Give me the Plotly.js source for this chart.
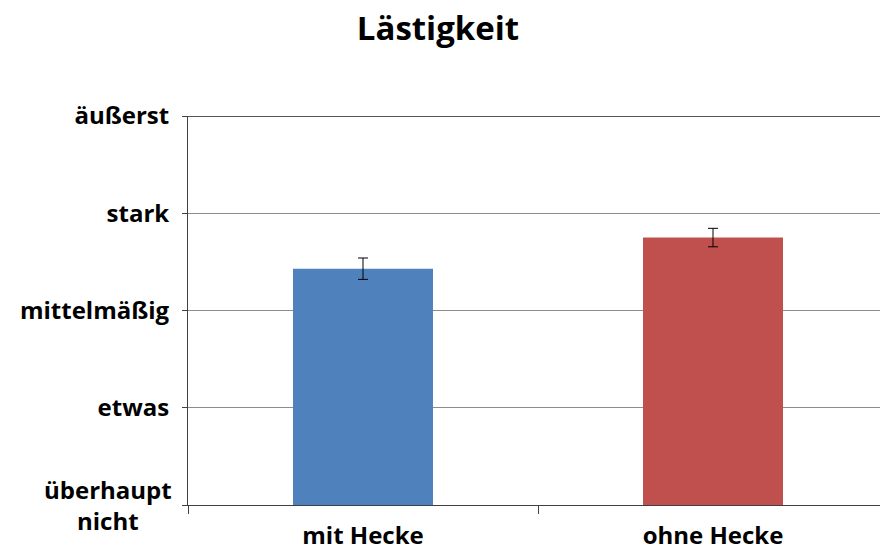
<!DOCTYPE html>
<html><head><meta charset="utf-8">
<script src="https://cdn.plot.ly/plotly-3.0.1.min.js"></script>
<style>html,body{margin:0;padding:0;overflow:hidden;background:#fff}</style>
</head><body><div id="chart"></div>
<script>
const categories = ["mit Hecke", "ohne Hecke"];
const values = [3.43, 3.75];
const errors = [0.11, 0.095];
const barColors = ["#4F81BD", "#C0504D"];
const levelValues = [1, 2, 3, 4, 5];
const levelLabels = ["überhaupt<br>nicht", "etwas", "mittelmäßig", "stark", "äußerst"];

const fam = "Open Sans, sans-serif";
const trace = {
  type: "bar", x: categories.map(c => "<b>" + c + "</b>"), y: values,
  marker: {color: barColors},
  width: 0.4,
  error_y: {type: "data", array: errors, visible: true, color: "#000", thickness: 1, width: 5},
  hoverinfo: "none"
};
// first level label drawn as a centred annotation, the rest as tick labels
const tickText = levelLabels.map((s, i) => i === 0 ? "" : "<b>" + s + "</b>");
const layout = {
  width: 888, height: 551,
  margin: {l: 188, r: 0, t: 116, b: 46},
  paper_bgcolor: "#fff", plot_bgcolor: "#fff",
  showlegend: false,
  title: {text: "<b>Lästigkeit</b>", x: 438/888, xanchor: "center", y: 1 - 28/551, yanchor: "middle",
          font: {family: fam, size: 33, color: "#000"}},
  xaxis: {range: [-0.5, 1.5], tickson: "boundaries", ticks: "outside", ticklen: 8, tickcolor: "#404040",
          showline: true, linecolor: "#404040", linewidth: 1, showgrid: false, zeroline: false,
          tickfont: {family: fam, size: 24, color: "#000"}, ticklabelstandoff: 9},
  yaxis: {range: [1, 5], tickvals: levelValues, ticktext: tickText, ticks: "outside", ticklen: 5,
          tickcolor: "#404040", showline: true, linecolor: "#404040", linewidth: 1,
          showgrid: true, gridcolor: "#8c8c8c", gridwidth: 1, zeroline: false,
          tickfont: {family: fam, size: 24, color: "#000"}, ticklabelstandoff: 8},
  annotations: [{
    text: "<b>" + levelLabels[0] + "</b>", xref: "paper", yref: "y", x: 0, y: levelValues[0],
    xanchor: "right", yanchor: "middle", xshift: -14, align: "center", showarrow: false,
    font: {family: fam, size: 24, color: "#000"}
  }],
  shapes: [{type: "line", xref: "paper", yref: "y", x0: 0, x1: 1, y0: levelValues[4], y1: levelValues[4],
            line: {color: "#555", width: 2}}]
};
Plotly.newPlot("chart", [trace], layout, {displayModeBar: false, staticPlot: true});
</script></body></html>
